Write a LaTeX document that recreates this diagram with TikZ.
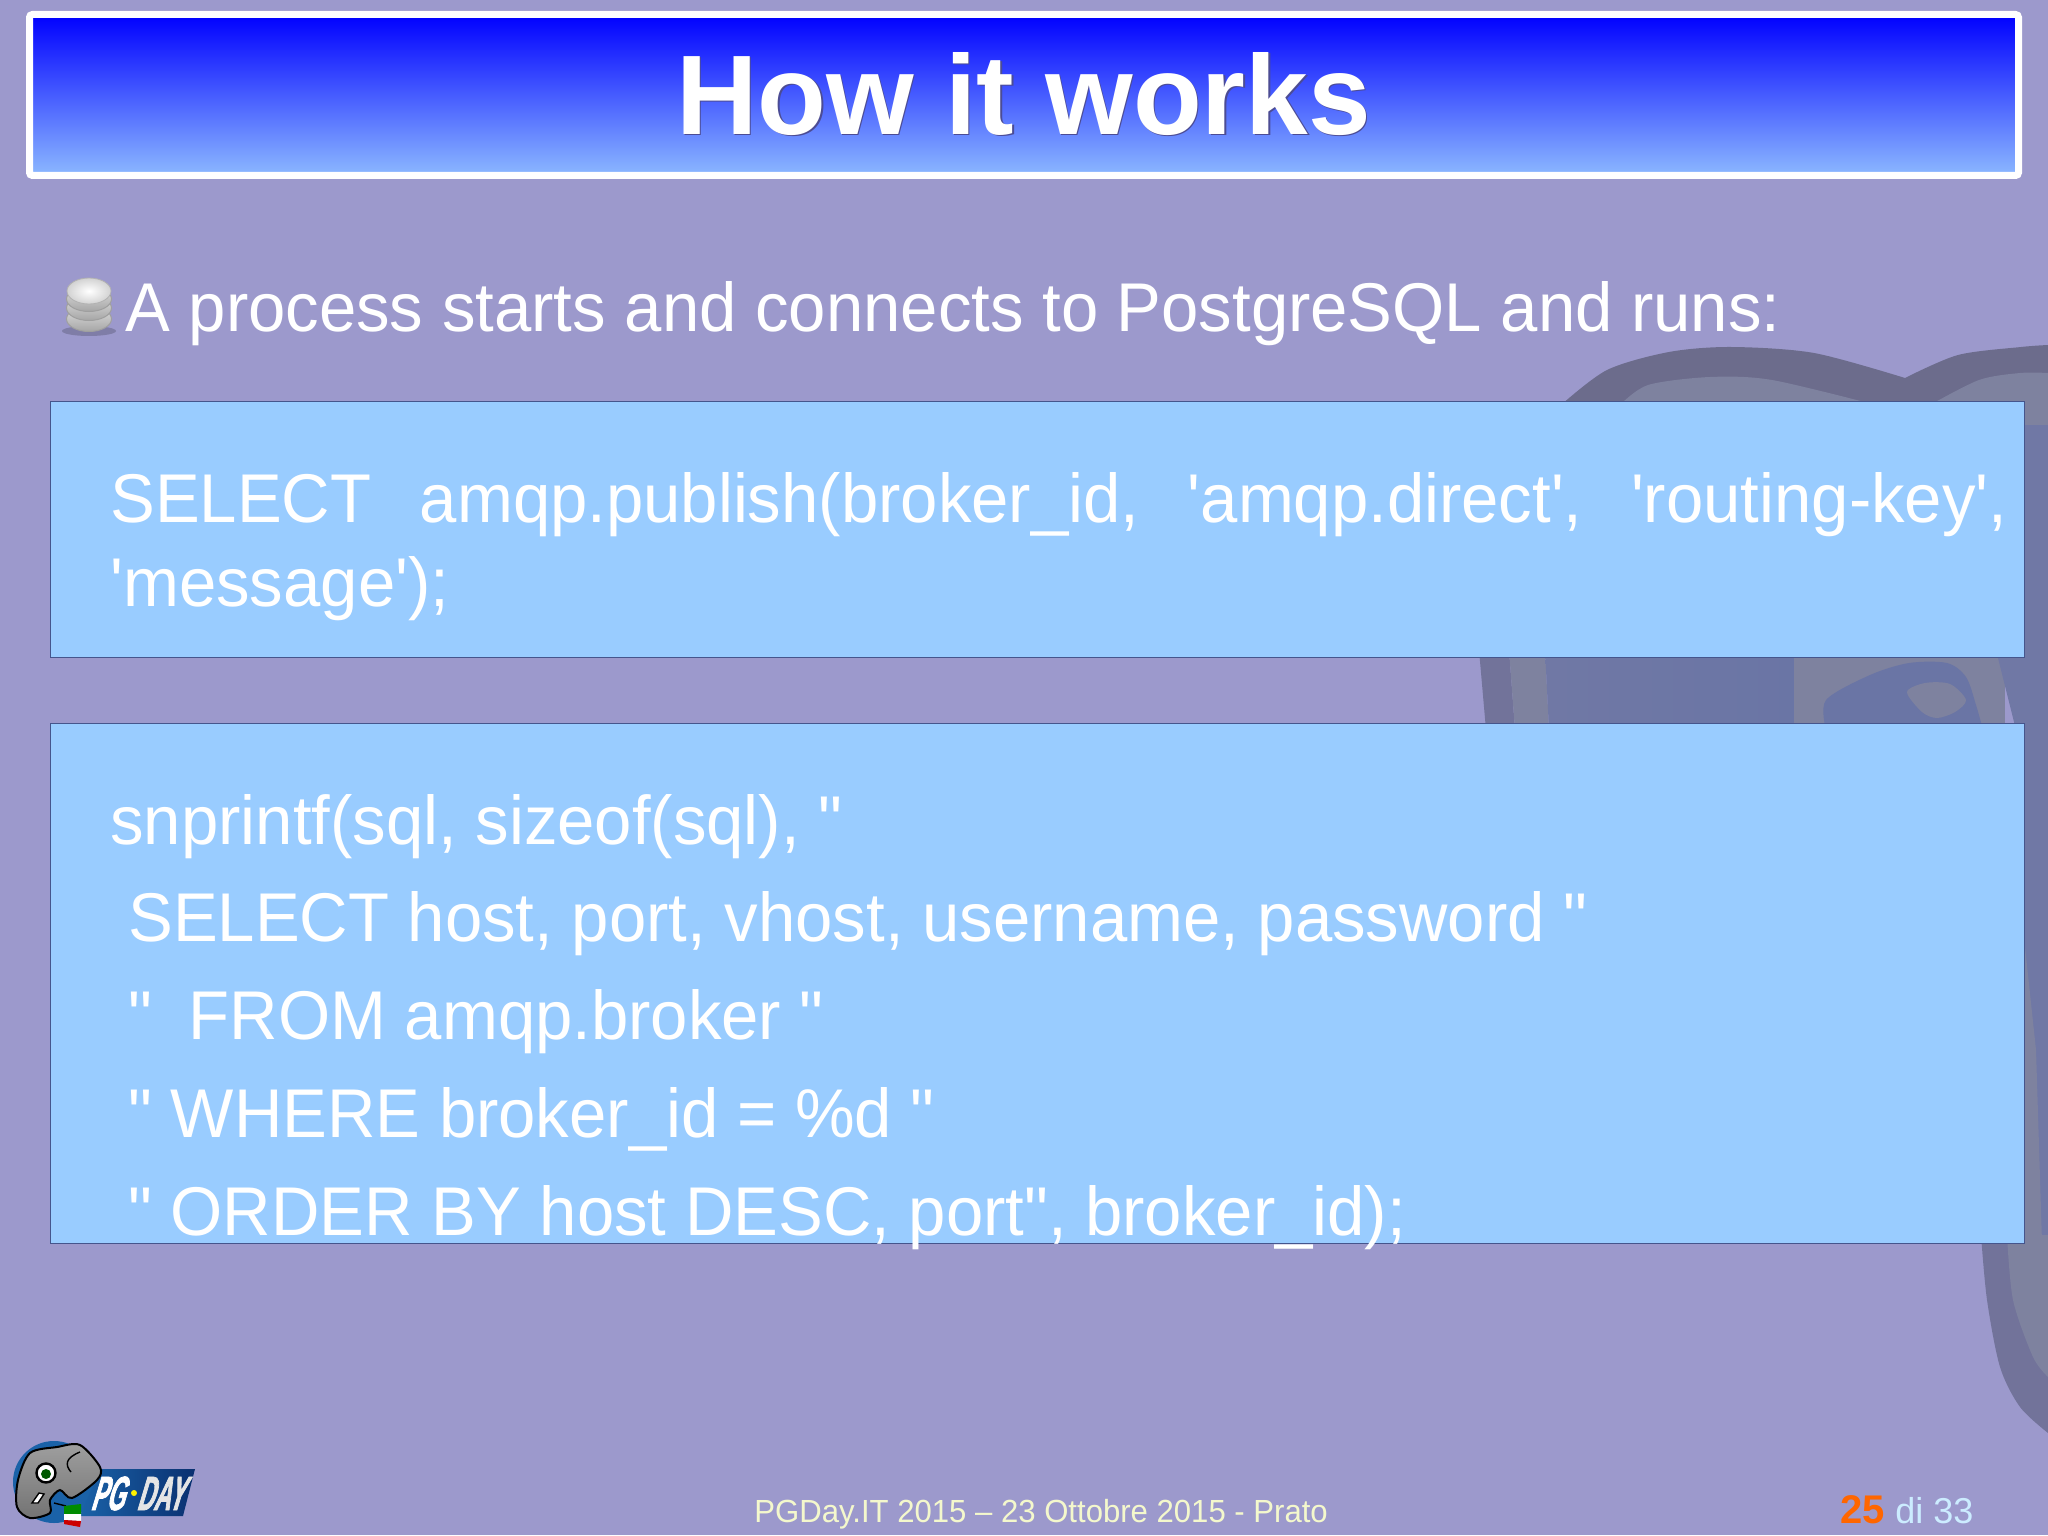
\documentclass[tikz,border=0pt]{standalone}
\usepackage{fontspec}
\usetikzlibrary{positioning,calc,shapes.geometric}
\newfontfamily\slidefont[FakeStretch=0.972]{Liberation Sans}
\newfontfamily\headfont[FakeStretch=0.995]{Liberation Sans}
\newfontfamily\pagefont{Liberation Sans}
\newfontfamily\logofont[FakeSlant=0.3,FakeStretch=0.48,FakeBold=1.5]{Liberation Sans}
\definecolor{slidebg}{HTML}{9C99CC}
\definecolor{boxfill}{HTML}{99CCFF}
\definecolor{boxline}{HTML}{45558C}
\definecolor{wmdark}{HTML}{6C6C8C}
\definecolor{wmside}{HTML}{72739A}
\definecolor{wmlight}{HTML}{7E829F}
\definecolor{wmblue}{HTML}{6A75A5}
\definecolor{wmstrip}{HTML}{7078A5}
\definecolor{footcol}{HTML}{F4F8CC}
\definecolor{gradbot}{HTML}{8CB8FF}
\definecolor{logoblue}{HTML}{1A62A8}
\definecolor{logonavy}{HTML}{0A3070}
\tikzset{
	codebox/.style={draw=boxline,fill=boxfill,line width=.6pt},
	txt/.style={anchor=base west,inner sep=0pt,text=white,font=\slidefont\fontsize{34.5}{40}\selectfont},
	headtxt/.style={anchor=base west,inner sep=0pt,font=\headfont\bfseries\fontsize{56.6}{60}\selectfont},
	logotxt/.style={anchor=base west,inner sep=0pt,font=\logofont\bfseries\fontsize{24}{26}\selectfont},
	disk/.style={draw=gray!75,line width=.5pt,top color=gray!25,bottom color=gray!70},
}
\begin{document}
\begin{tikzpicture}[x=.5pt,y=-.5pt]
\useasboundingbox (0,0) rectangle (2048,1535);
\fill [slidebg] (0,0) rectangle (2048,1535);

% watermark behind the boxes
\fill [wmdark] plot [smooth] coordinates {(1561,405) (1607,370) (1669,352) (1731,347) (1814,353) (1905,378)} -- plot [smooth] coordinates {(1905,378) (1958,355) (2021,347) (2048,345)} -- (2048,430) -- (1561,430) -- cycle;
\fill [wmlight] plot [smooth] coordinates {(1620,405) (1648,385) (1710,377) (1772,380) (1876,405)} -- cycle;
\fill [wmlight] plot [smooth] coordinates {(1930,405) (1979,380) (2020,373) (2048,373)} -- (2048,430) -- (1930,430) -- cycle;
\fill [wmside] (1479,650) -- (1486,730) -- (1515,730) -- (1509,650) -- cycle;
\fill [wmlight] (1509,650) -- (1515,730) -- (1549,730) -- (1545,650) -- cycle;
\shade [left color=wmstrip,right color=wmblue] (1545,650) -- (1549,730) -- (1800,730) -- (1800,650) -- cycle;
\fill [wmlight] (1794,650) rectangle (2005,730);
\fill [wmblue] plot [smooth] coordinates {(1826,730) (1826,700) (1870,675) (1909,663) (1947,663) (1966,677) (1976,705) (1983,730)} -- cycle;
\fill [wmlight] plot [smooth cycle] coordinates {(1907,692) (1925,683) (1950,684) (1966,700) (1955,712) (1937,718) (1922,712)};
\fill [wmstrip] (1996,650) -- (2016,730) -- (2048,730) -- (2048,650) -- cycle;
\fill [wmstrip] (2025,425) rectangle (2048,1243);
\fill [wmlight] (2025,947) -- (2036,1050) -- (2042,1243) -- (2025,1243) -- cycle;
\fill [wmside] plot [smooth] coordinates {(1981,1235) (1987,1300) (2000,1367) (2020,1407) (2048,1433)} -- (2048,1235) -- cycle;
\fill [wmlight] plot [smooth] coordinates {(2007,1235) (2013,1300) (2033,1357) (2048,1377)} -- (2048,1235) -- cycle;

% title bar
\node [draw=white,line width=3.5pt,rounded corners=1.5pt,inner sep=0pt,minimum width=1989pt/2,minimum height=161pt/2,anchor=north west,
	top color=blue,bottom color=gradbot] (titlebar) at (26,11) {};
\node [headtxt,text=blue!40!black!70!white] (titleshadow) at (677.4,135.6) {How it works};
\node [headtxt,text=white] (title) at (676,134.5) {How it works};

% database bullet
\fill [black,opacity=.18] (89,331) ellipse (27 and 5);
\foreach \yy in {319,308,299} {
	\draw [disk] (89,\yy) ellipse (22.5 and 12.5);
}
\draw [gray!60,inner color=white,outer color=gray!35] (89,291) ellipse (22 and 13);
\node [txt] (intro) at (125,331) {A process starts and connects to PostgreSQL and runs:};

% first box
\node [codebox,minimum width=1974pt/2,minimum height=256pt/2,inner sep=0pt,anchor=north west] (box1) at (50,401) {};
\node [txt] (q1) at (110,522) {\hbox to 948.5pt{SELECT\hfill amqp.publish(broker\_id,\hfill 'amqp.direct',\hfill 'routing-key',}};
\node [txt] (q2) at (110,606) {'message');};

% second box
\node [codebox,minimum width=1974pt/2,minimum height=520pt/2,inner sep=0pt,anchor=north west] (box2) at (50,723) {};
\node [txt] (c1) at (110,844) {snprintf(sql, sizeof(sql), "};
\node [txt] (c2) at (128,941) {SELECT host, port, vhost, username, password "};
\node [txt] (c3) at (128,1039) {"\hspace{.53em}FROM amqp.broker "};
\node [txt] (c4) at (128,1137) {" WHERE broker\_id = \%d "};
\node [txt] (c5) at (128,1235) {" ORDER BY host DESC, port", broker\_id);};

% logo
\fill [logoblue] (54,1482) circle (41);
\shade [left color=logoblue,right color=logonavy] (100,1469) -- (195,1469) -- (183,1516) -- (80,1516) -- cycle;
\draw [line width=1pt,top color=gray!75,bottom color=gray!90!black] plot [smooth cycle] coordinates {(18,1480) (30,1453) (57,1447) (80,1445) (100,1467) (97,1480) (72,1498) (60,1490) (50,1500) (50,1513) (30,1518) (17,1507)};
\draw [line width=.7pt] (80,1452) .. controls (65,1458) and (65,1465) .. (71,1472);
\draw [line width=1.2pt,fill=white] (46,1473) circle (9.5);
\fill [green!35!black] (46,1474) circle (5);
\draw [line width=.7pt,fill=white] (32,1503) -- (39,1493) -- (44,1494) -- (38,1503) -- cycle;
\draw [line width=.7pt] (54,1503) -- (66,1506);
\fill [green!55!black] (64,1506) -- (81,1504) -- (81,1514) -- (64,1514) -- cycle;
\fill [white] (64,1514) -- (81,1514) -- (81,1521) -- (64,1520) -- cycle;
\fill [red!80!black] (64,1520) -- (81,1521) -- (80,1527) -- (64,1524) -- cycle;
\node [logotxt,text=white] (logopg) at (90,1510) {PG};
\fill [yellow] (134,1493) circle (3);
\node [logotxt,text=gray!20!white] (logoday) at (136,1510) {DAY};

% footer
\node [anchor=base west,inner sep=0pt,text=footcol,font=\slidefont\fontsize{16}{18}\selectfont] (foot) at (754,1522) {PGDay.IT 2015 – 23 Ottobre 2015 - Prato};
\node [anchor=base west,inner sep=0pt,text={rgb,255:red,255;green,102;blue,0},font=\pagefont\bfseries\fontsize{20}{22}\selectfont] (pagenum) at (1840,1523) {25};
\node [anchor=base west,inner sep=0pt,text={rgb,255:red,204;green,236;blue,255},font=\pagefont\fontsize{18}{20}\selectfont] (pageof) at (1895,1523) {di 33};
\end{tikzpicture}
\end{document}
